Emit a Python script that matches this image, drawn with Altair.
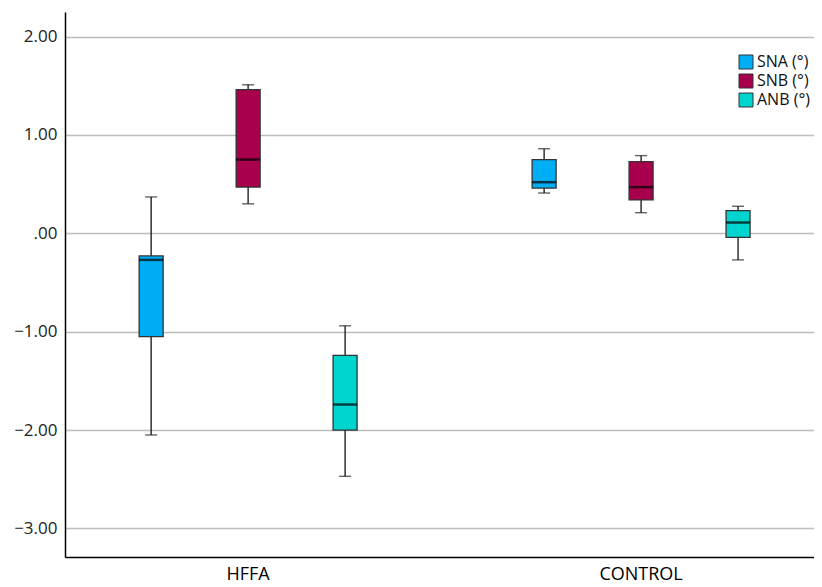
import altair as alt
import pandas as pd

groups = ["HFFA", "HFFA", "HFFA", "CONTROL", "CONTROL", "CONTROL"]
series = ["SNA (°)", "SNB (°)", "ANB (°)", "SNA (°)", "SNB (°)", "ANB (°)"]
mins = [-2.05, 0.30, -2.47, 0.41, 0.21, -0.27]
q1s = [-1.05, 0.47, -2.00, 0.46, 0.34, -0.04]
medians = [-0.27, 0.75, -1.74, 0.52, 0.47, 0.11]
q3s = [-0.23, 1.46, -1.24, 0.75, 0.73, 0.23]
maxs = [0.37, 1.51, -0.94, 0.86, 0.79, 0.275]

group_order = ["HFFA", "CONTROL"]
series_order = ["SNA (°)", "SNB (°)", "ANB (°)"]
colors = ["#00AEF5", "#A8004C", "#00D4CF"]
y_ticks = [-3, -2, -1, 0, 1, 2]

df = pd.DataFrame({"group": groups, "series": series, "lo": mins, "q1": q1s,
                   "med": medians, "q3": q3s, "hi": maxs})

FONT = "Open Sans"

x_enc = alt.X("group:N", sort=group_order, title=None,
              scale=alt.Scale(paddingInner=0.12, paddingOuter=0.013, align=1),
              axis=alt.Axis(labelAngle=0, labelFontSize=18, labelColor="#000",
                            ticks=False, labelPadding=8, domainColor="#000",
                            domainWidth=1.5, grid=False, labelFont=FONT))
xo_enc = alt.XOffset("series:N", sort=series_order,
                     scale=alt.Scale(paddingInner=0, paddingOuter=0.283))
y_scale = alt.Scale(domain=[-3.29, 2.25], nice=False, zero=False)
y_axis = alt.Axis(values=y_ticks, title=None, ticks=False, labelPadding=8,
                  labelFontSize=17, labelColor="#222", labelFont=FONT,
                  labelExpr="datum.value == 0 ? '.00' : format(datum.value, '.2f')",
                  domainColor="#000", domainWidth=1.5, gridColor="#BDBDBD",
                  gridWidth=1.5)

base = alt.Chart(df)

whisk_lo = base.mark_rule(color="#222", strokeWidth=1.4).encode(
    x=x_enc, xOffset=xo_enc,
    y=alt.Y("lo:Q", scale=y_scale, axis=y_axis), y2="q1:Q")
whisk_hi = base.mark_rule(color="#222", strokeWidth=1.4).encode(
    x=x_enc, xOffset=xo_enc, y=alt.Y("q3:Q", scale=y_scale), y2="hi:Q")

boxes = base.mark_bar(size=24, stroke="#333", strokeWidth=1.3).encode(
    x=x_enc, xOffset=xo_enc,
    y=alt.Y("q1:Q", scale=y_scale), y2="q3:Q",
    color=alt.Color("series:N", sort=series_order,
                    scale=alt.Scale(domain=series_order, range=colors),
                    legend=alt.Legend(title=None, orient="none", legendX=673,
                                      legendY=42, symbolType="square",
                                      symbolSize=196, symbolStrokeColor="#333",
                                      symbolStrokeWidth=1, labelFontSize=16,
                                      labelFont=FONT, labelColor="#111",
                                      rowPadding=1, labelOffset=3,
                                      symbolOpacity=1)))

med = base.mark_tick(color="#000", size=24, thickness=2.5).encode(
    x=x_enc, xOffset=xo_enc, y=alt.Y("med:Q", scale=y_scale))
cap_lo = base.mark_tick(color="#222", size=12, thickness=1.4).encode(
    x=x_enc, xOffset=xo_enc, y=alt.Y("lo:Q", scale=y_scale))
cap_hi = base.mark_tick(color="#222", size=12, thickness=1.4).encode(
    x=x_enc, xOffset=xo_enc, y=alt.Y("hi:Q", scale=y_scale))

chart = alt.layer(whisk_lo, whisk_hi, boxes, med, cap_lo, cap_hi).properties(
    width=749, height=545,
    autosize=alt.AutoSizeParams(type="none"),
    padding={"left": 57, "top": 4, "right": 0, "bottom": 30},
    background="white",
).configure_view(stroke=None)

chart.save("out.html", embed_options={"renderer": "svg", "actions": False})
